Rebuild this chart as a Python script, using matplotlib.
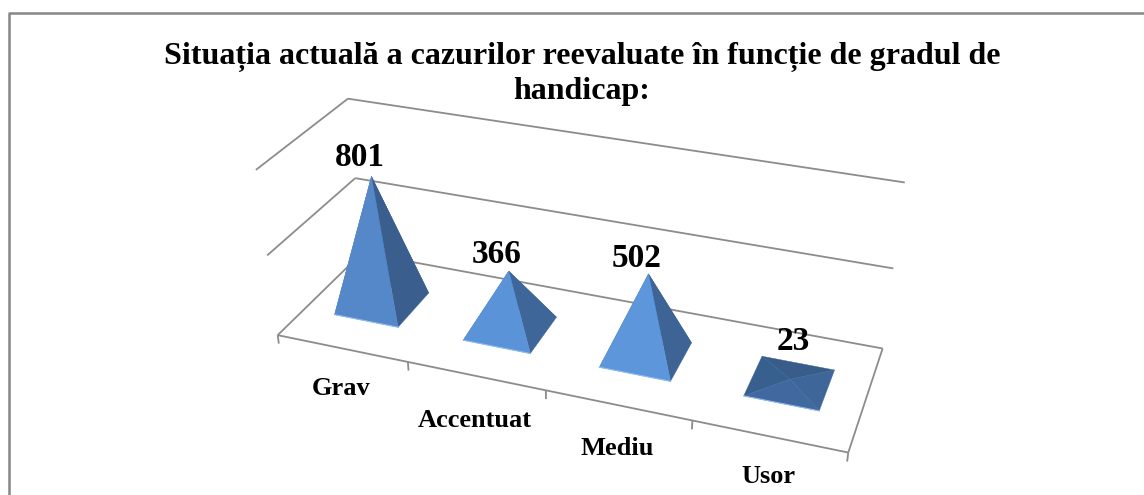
"""3D pyramid column chart, projected by hand onto a flat axes."""
import matplotlib
matplotlib.use('Agg')
import matplotlib.pyplot as plt
import numpy as np
from matplotlib.patches import Polygon

plt.rcParams['font.family'] = ['Liberation Serif', 'DejaVu Serif']

TITLE_LINES = ['Situația actuală a cazurilor reevaluate în funcție de gradul de', 'handicap:']
categories = ['Grav', 'Accentuat', 'Mediu', 'Usor']
values = [801, 366, 502, 23]
value_ticks = [0, 500, 1000]

# category units, depth 0..1, value -> pixel, fixes the camera
_CAMERA_POINTS = [
    ((0, 0, 0), (278, 335)), ((4, 0, 0), (848, 453)),
    ((4, 1, 0), (883, 348)), ((0, 1, 0), (362, 253)),
    ((0, 0, 500), (267, 256)), ((0, 1, 500), (355, 178)), ((4, 1, 500), (893, 268)),
    ((0, 0, 1000), (256, 169)), ((0, 1, 1000), (348, 99)), ((4, 1, 1000), (905, 183)),
]
_GRID = '#8c8c8c'
_BAR_HALF_W = 0.25
_BAR_HALF_D = 0.20
# face colours per bar: back, left, right, front
_FACES = [
    ('#3a5f8f', '#4a78b0', '#3a5f8f', '#5588c9'),
    ('#3f6698', '#4a78b0', '#3f6698', '#5b93d8'),
    ('#3d6495', '#4a78b0', '#3d6495', '#5d96da'),
    ('#395d8a', '#38608f', '#3e6699', '#42699f'),
]
_LABEL_OFFSET = [(-12, -19), (-12, -17), (-12, -15), (3, -38)]
_NAME_OFFSET = [40, 45, 43, 40]


def fit_camera(points):
    """Solve the 3x4 projection matrix from the point pairs."""
    rows = []
    for (u, d, v), (x, y) in points:
        p = [u / 4, d, v / 1000, 1]
        rows.append(p + [0, 0, 0, 0] + [-x * c for c in p])
        rows.append([0, 0, 0, 0] + p + [-y * c for c in p])
    return np.linalg.svd(np.array(rows, dtype=float))[2][-1].reshape(3, 4)


CAM = fit_camera(_CAMERA_POINTS)


def project(u, d, v):
    x, y, w = CAM @ np.array([u / 4, d, v / 1000, 1])
    return x / w, y / w


def line(ax, a, b, lw=1.3, zorder=1):
    (x0, y0), (x1, y1) = project(*a), project(*b)
    ax.plot([x0, x1], [y0, y1], color=_GRID, lw=lw, zorder=zorder, solid_capstyle='butt')


fig = plt.figure(figsize=(11.44, 4.95), dpi=100)
ax = fig.add_axes([0, 0, 1, 1])
ax.set_xlim(0, 1144)
ax.set_ylim(495, 0)
ax.axis('off')

# chart frame, only the left and top edges are in the crop
ax.plot([8.5, 8.5, 1144], [495, 12.5, 12.5], color='#868686', lw=1.8, zorder=1)

# walls and floor
n = len(categories)
for tick in value_ticks:
    line(ax, (0, 0, tick), (0, 1, tick))
    line(ax, (0, 1, tick), (n, 1, tick))
line(ax, (0, 0, 0), (n, 0, 0))
line(ax, (n, 0, 0), (n, 1, 0))
for i in range(n + 1):
    line(ax, (i, 0, 0), (i, 0, -55))

# pyramids
for i, (name, val) in enumerate(zip(categories, values)):
    cu, cd = i + 0.49, 0.50
    fl = project(cu - _BAR_HALF_W, cd - _BAR_HALF_D, 0)
    fr = project(cu + _BAR_HALF_W, cd - _BAR_HALF_D, 0)
    br = project(cu + _BAR_HALF_W, cd + _BAR_HALF_D, 0)
    bl = project(cu - _BAR_HALF_W, cd + _BAR_HALF_D, 0)
    apex = project(cu, cd, val)
    faces = [(bl, br), (fl, bl), (fr, br), (fl, fr)]
    for (p, q), col in zip(faces, _FACES[i]):
        ax.add_patch(Polygon([p, q, apex], closed=True, fc=col, ec=col, lw=0.3, zorder=3))
    ax.plot([fl[0], fr[0]], [fl[1], fr[1]], color='#8fbdf0', lw=0.8, zorder=4)
    dx, dy = _LABEL_OFFSET[i]
    ax.text(apex[0] + dx, apex[1] + dy, str(val), ha='center', va='center',
            fontsize=24, fontweight='bold', color='black', zorder=5)
    lx, ly = project(i + 0.5, 0, 0)
    ax.text(lx - 1, ly + _NAME_OFFSET[i], name, ha='center', va='center',
            fontsize=19, fontweight='bold', color='black', zorder=5)

for y, text in zip([57, 92], TITLE_LINES):
    ax.text(582, y, text, ha='center', va='center', fontsize=23, fontweight='bold', color='black')

fig.savefig('out.png', dpi=100)
